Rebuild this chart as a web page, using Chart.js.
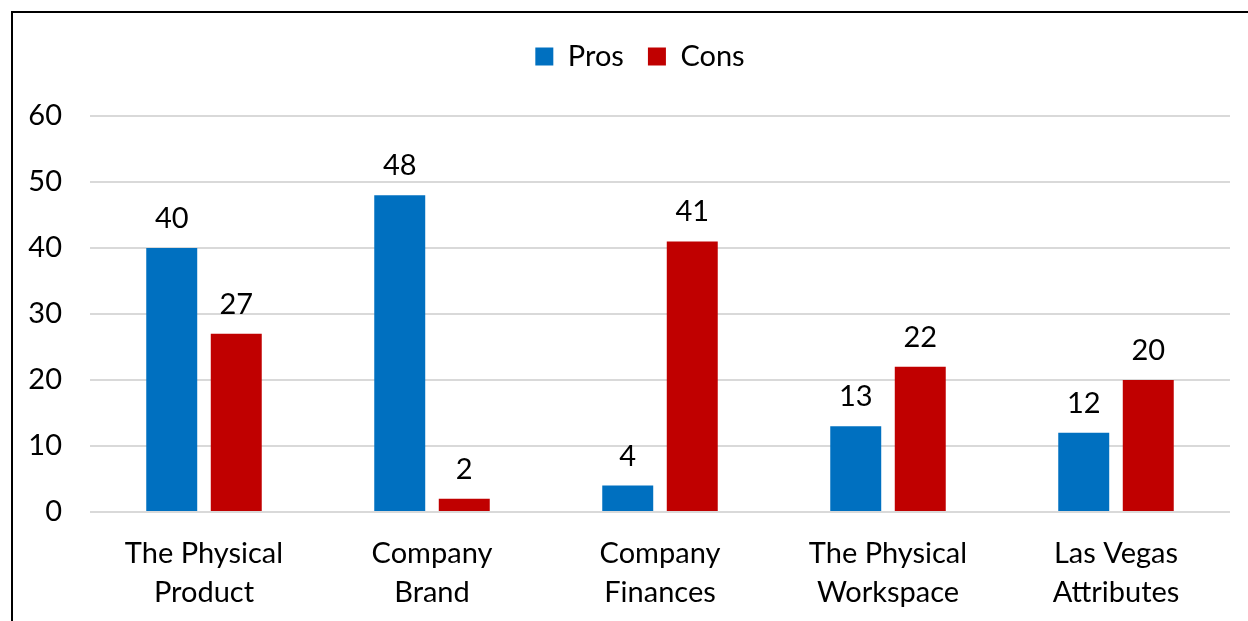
<!DOCTYPE html>
<html><head><meta charset="utf-8">
<script src="https://cdn.jsdelivr.net/npm/chart.js@4"></script>
<style>
html,body{margin:0;padding:0;background:#fff;overflow:hidden}
#wrap{position:absolute;left:0;top:0;width:1248px;height:621px}
#frame{position:absolute;left:11px;top:11px;width:1300px;height:700px;border-left:2px solid #000;border-top:2px solid #000;pointer-events:none}
</style></head><body>
<div id="wrap"><canvas id="c" width="1248" height="621"></canvas></div>
<div id="frame"></div>
<script>
const categories = [["The Physical","Product"],["Company","Brand"],["Company","Finances"],["The Physical","Workspace"],["Las Vegas","Attributes"]];
const prosValues = [40, 48, 4, 13, 12];
const consValues = [27, 2, 41, 22, 20];
const yTicks = [0, 10, 20, 30, 40, 50, 60];

const FONT = "Lato";
const FS = 29;

const valueLabels = {
  id: 'valueLabels',
  afterDatasetsDraw(chart) {
    const ctx = chart.ctx;
    ctx.save();
    ctx.font = FS + "px " + FONT;
    ctx.fillStyle = "#000";
    ctx.textAlign = "center";
    ctx.textBaseline = "alphabetic";
    chart.data.datasets.forEach((ds, i) => {
      chart.getDatasetMeta(i).data.forEach((bar, j) => {
        ctx.fillText(String(ds.data[j]), bar.x, bar.y - 20);
      });
    });
    ctx.restore();
  }
};

const legendGap = {
  id: 'legendGap',
  beforeLayout(chart) {
    const lg = chart.legend;
    if (lg && !lg._gapPatched) {
      const orig = lg.fit;
      lg.fit = function () { orig.call(this); this.height += 35; };
      lg._gapPatched = true;
    }
  },
  afterLayout(chart) {
    const lg = chart.legend;
    if (lg) { lg.left += 50; }
  }
};

new Chart(document.getElementById('c'), {
  type: 'bar',
  data: {
    labels: categories,
    datasets: [
      {label: 'Pros', data: prosValues, backgroundColor: '#0070C0'},
      {label: 'Cons', data: consValues, backgroundColor: '#C00000'}
    ]
  },
  options: {
    responsive: false,
    animation: false,
    maintainAspectRatio: false,
    layout: {padding: {left: 0, right: 18, top: 18, bottom: 0}},
    datasets: {bar: {categoryPercentage: 0.566, barPercentage: 0.79}},
    plugins: {
      legend: {
        position: 'top',
        labels: {boxWidth: 18, boxHeight: 18, color: '#000', font: {family: FONT, size: FS}, padding: 24}
      },
      tooltip: {enabled: false}
    },
    scales: {
      x: {
        grid: {display: false, drawTicks: false},
        border: {display: false},
        ticks: {color: '#000', font: {family: FONT, size: FS, lineHeight: 1.34}, padding: 22, maxRotation: 0, autoSkip: false},
        afterFit(s) { s.height = 109; }
      },
      y: {
        min: 0, max: 60,
        afterBuildTicks(s) { s.ticks = yTicks.map(v => ({value: v})); },
        grid: {color: '#d9d9d9', lineWidth: 2, drawTicks: false},
        border: {display: false},
        ticks: {color: '#000', font: {family: FONT, size: FS}, padding: 28},
        afterFit(s) { s.width = 90; }
      }
    }
  },
  plugins: [valueLabels, legendGap]
});
</script>
</body></html>
